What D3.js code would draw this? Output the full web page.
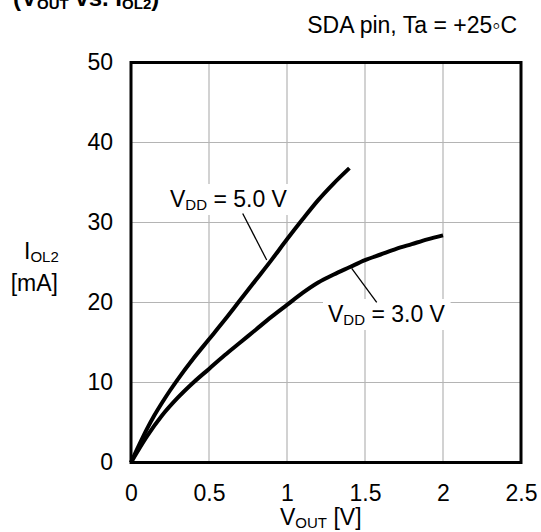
<!DOCTYPE html>
<html>
<head>
<meta charset="utf-8">
<script src="https://cdn.jsdelivr.net/npm/d3@7"></script>
<style>
  body { margin: 0; background: #fff; }
  svg { display: block; font-family: "Liberation Sans", Arial, sans-serif; }
</style>
</head>
<body>
<svg id="chart" width="541" height="532"></svg>
<script>
// values
const vout5 = [0, 0.05, 0.1, 0.15, 0.2, 0.25, 0.3, 0.4, 0.5, 0.6, 0.7, 0.8, 0.9, 1.0, 1.1, 1.2, 1.3, 1.4]
const iol5  = [0, 2.1, 4.1, 5.9, 7.5, 9.0, 10.4, 13.0, 15.4, 17.8, 20.3, 22.8, 25.3, 27.9, 30.4, 32.8, 34.9, 36.8]

const vout3 = [0, 0.1, 0.2, 0.3, 0.4, 0.5, 0.6, 0.7, 0.8, 0.9, 1.0, 1.1, 1.2, 1.3, 1.4, 1.5, 1.6, 1.7, 1.8, 1.9, 2.0]
const iol3  = [0, 3.2, 5.9, 8.1, 10.0, 11.7, 13.4, 15.0, 16.6, 18.2, 19.7, 21.2, 22.5, 23.5, 24.4, 25.3, 26.0, 26.7, 27.3, 27.9, 28.4]

const xTicks = [0, 0.5, 1, 1.5, 2, 2.5]
const yTicks = [0, 10, 20, 30, 40, 50]

const svg = d3.select("#chart")
const plotL = 131, plotR = 521, plotT = 62.5, plotB = 462.5
const fontSize = 23, subSize = 15

const x = d3.scaleLinear().domain([0, 2.5]).range([plotL, plotR])
const y = d3.scaleLinear().domain([0, 50]).range([plotB, plotT])

// grid
svg.append("g")
  .selectAll("line")
  .data(xTicks.slice(1, -1))
  .enter().append("line")
    .attr("x1", d => x(d)).attr("x2", d => x(d))
    .attr("y1", plotT).attr("y2", plotB)
    .attr("stroke", "#b4b4b4").attr("stroke-width", 1.2)
svg.append("g")
  .selectAll("line")
  .data(yTicks.slice(1, -1))
  .enter().append("line")
    .attr("x1", plotL).attr("x2", plotR)
    .attr("y1", d => y(d)).attr("y2", d => y(d))
    .attr("stroke", "#b4b4b4").attr("stroke-width", 1.2)

// axes (labels only, frame drawn separately)
const xAxis = svg.append("g")
  .attr("transform", `translate(0,${plotB})`)
  .call(d3.axisBottom(x).tickValues(xTicks).tickSize(0).tickPadding(22).tickFormat(d3.format("")))
const yAxis = svg.append("g")
  .attr("transform", `translate(${plotL},0)`)
  .call(d3.axisLeft(y).tickValues(yTicks).tickSize(0).tickPadding(18))
;[xAxis, yAxis].forEach(a => {
  a.select(".domain").remove()
  a.selectAll("text")
    .attr("font-size", fontSize)
    .attr("font-family", "Liberation Sans, Arial, sans-serif")
    .attr("fill", "#000")
})

// curves
const line = d3.line().x(d => x(d[0])).y(d => y(d[1])).curve(d3.curveMonotoneX)
const series = [d3.zip(vout5, iol5), d3.zip(vout3, iol3)]
svg.append("g")
  .selectAll("path")
  .data(series)
  .enter().append("path")
    .attr("d", line)
    .attr("fill", "none")
    .attr("stroke", "#000")
    .attr("stroke-width", 4)
    .attr("stroke-linejoin", "round")

// frame
svg.append("rect")
  .attr("x", plotL).attr("y", plotT)
  .attr("width", plotR - plotL).attr("height", plotB - plotT)
  .attr("fill", "none").attr("stroke", "#000").attr("stroke-width", 3)

// helper: text with subscript parts
function subText(g, parts, attrs) {
  const t = g.append("text")
  Object.keys(attrs).forEach(k => t.attr(k, attrs[k]))
  parts.forEach(p => {
    const s = t.append("tspan").text(p.t)
    if (p.sub) s.attr("font-size", subSize).attr("dy", 3)
    else if (p.back) s.attr("dy", -3)
  })
  return t
}

// curve labels with white boxes and leader lines
function curveLabel(value, tx, ty, leader) {
  const g = svg.append("g")
  const t = subText(g, [{t: "V"}, {t: "DD", sub: true}, {t: " = " + value + " V", back: true}],
    {x: tx, y: ty, "font-size": fontSize, fill: "#000"})
  const bb = t.node().getBBox()
  g.insert("rect", "text")
    .attr("x", bb.x - 5).attr("y", bb.y - 2)
    .attr("width", bb.width + 10).attr("height", bb.height + 4)
    .attr("fill", "#fff")
  svg.append("line")
    .attr("x1", leader[0]).attr("y1", leader[1])
    .attr("x2", leader[2]).attr("y2", leader[3])
    .attr("stroke", "#000").attr("stroke-width", 1.3)
}
curveLabel("5.0", 170, 207, [242.7, 213.5, 266.7, 260])
curveLabel("3.0", 328, 322, [351.7, 268.3, 376.7, 302.3])

// axis titles
subText(svg, [{t: "V"}, {t: "OUT", sub: true}, {t: " [V]", back: true}],
  {x: 280, y: 525, "font-size": fontSize, fill: "#000"})
subText(svg, [{t: "I"}, {t: "OL2", sub: true}],
  {x: 24, y: 259, "font-size": fontSize, fill: "#000"})
svg.append("text").attr("x", 58).attr("y", 291).attr("text-anchor", "end")
  .attr("font-size", fontSize).text("[mA]")

// condition note
svg.append("text").attr("x", 517).attr("y", 33).attr("text-anchor", "end")
  .attr("font-size", fontSize).text("SDA pin, Ta = +25\u25E6C")

// title (clipped at the top edge, as in the reference)
subText(svg, [{t: "(V"}, {t: "OUT", sub: true}, {t: " vs. I", back: true}, {t: "OL2", sub: true}, {t: ")", back: true}],
  {x: 13, y: 6, "font-size": fontSize + 1, "font-weight": "bold", fill: "#000"})
</script>
</body>
</html>
